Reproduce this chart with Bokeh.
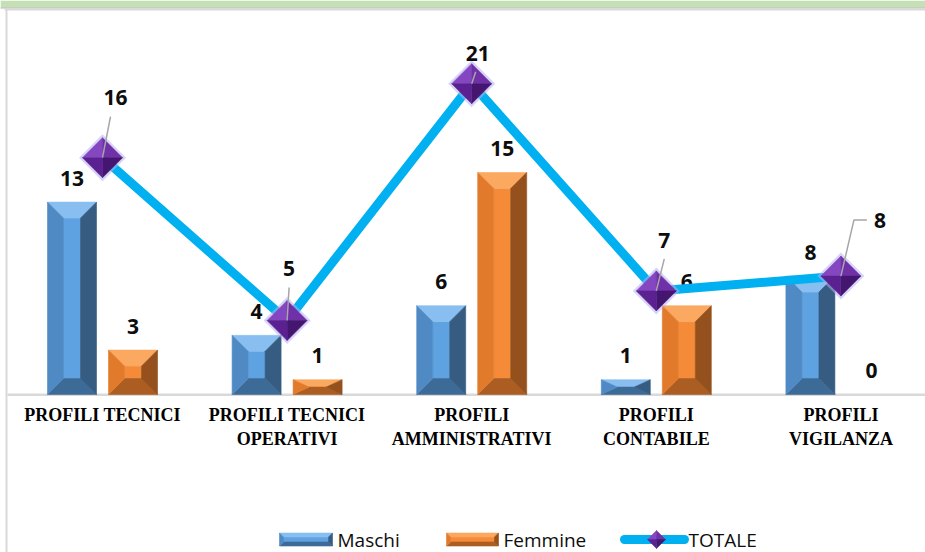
from bokeh.plotting import figure
from bokeh.models import Range1d
from bokeh.core.properties import value
from bokeh.embed import file_html
from bokeh.resources import INLINE

# ---- data -------------------------------------------------------------
categories = ["PROFILI TECNICI", "PROFILI TECNICI\nOPERATIVI", "PROFILI\nAMMINISTRATIVI",
              "PROFILI\nCONTABILE", "PROFILI\nVIGILANZA"]
maschi = [13, 4, 6, 1, 8]
femmine = [3, 1, 15, 6, 0]
totale = [16, 5, 21, 7, 8]
series_names = ["Maschi", "Femmine", "TOTALE"]

# ---- layout constants (pixels) ---------------------------------------
W, H = 925, 552
PX_X = 184.6      # width of one category slot
PX_Y = 14.8       # pixels per unit on the value axis
X0_PX = 102       # centre of the first category
BASE_PX = 394     # value-axis zero, measured from the top
LEG_Y = 539       # legend row centre, from the top

def dx(px):
    return px / PX_X

def dy(px):
    return px / PX_Y

def sx(px):
    return (px - X0_PX) / PX_X

def sy(py):
    return (BASE_PX - py) / PX_Y

p = figure(width=W, height=H, output_backend="svg", toolbar_location=None,
           x_range=Range1d(sx(0), sx(W)), y_range=Range1d(sy(H), sy(0)),
           x_axis_location=None, y_axis_location=None, min_border=0)
p.grid.visible = False
p.outline_line_color = None
p.background_fill_color = "white"
p.border_fill_color = "white"

# ---- frame decoration ------------------------------------------------
p.quad(left=[sx(0)], right=[sx(W)], top=[sy(0)], bottom=[sy(7)],
       fill_color="#c5e0b4", line_color=None)
p.line([sx(0), sx(W)], [sy(7.5), sy(7.5)], line_color="#6f6f6f",
       line_width=1, line_dash="1 1")
p.quad(left=[sx(4)], right=[sx(W)], top=[sy(8)], bottom=[sy(10)],
       fill_color="#d9d9d9", line_color=None)
p.quad(left=[sx(5)], right=[sx(7)], top=[sy(8)], bottom=[sy(H)],
       fill_color="#d9d9d9", line_color=None)
# category baseline
p.quad(left=[sx(7)], right=[sx(W)], top=[sy(393)], bottom=[sy(395.5)],
       fill_color="#d9d9d9", line_color=None)

# ---- bevelled columns --------------------------------------------------
BAR_HALF = 24.5
BAR_SHIFT = 30.5
BEVEL = 16

blue = {"top": "#88bff0", "left": "#4f8ac4", "face": "#5ea2e2",
        "right": "#365c82", "bottom": "#3d6b97"}
orange = {"top": "#fba860", "left": "#e27a2c", "face": "#f58b38",
          "right": "#94511d", "bottom": "#ab5d22"}

poly_xs, poly_ys, poly_cols = [], [], []

def bevel_box(L, R, B, T, bev_x, bev_y, cols):
    w_px = (R - L) * PX_X
    h_px = (T - B) * PX_Y
    bx = min(bev_x, w_px / 2)
    by = min(bev_y, h_px / 2)
    iL, iR = L + dx(bx), R - dx(bx)
    iT, iB = T - dy(by), B + dy(by)
    facets = [
        ("face", [iL, iR, iR, iL], [iT, iT, iB, iB]),
        ("top", [L, R, iR, iL], [T, T, iT, iT]),
        ("bottom", [L, R, iR, iL], [B, B, iB, iB]),
        ("left", [L, iL, iL, L], [T, iT, iB, B]),
        ("right", [R, iR, iR, R], [T, iT, iB, B]),
    ]
    for name, xs, ys in facets:
        poly_xs.append(xs)
        poly_ys.append(ys)
        poly_cols.append(cols[name])

for i, (m, f) in enumerate(zip(maschi, femmine)):
    for v, shift, cols in ((m, -BAR_SHIFT, blue), (f, BAR_SHIFT, orange)):
        if v <= 0:
            continue
        xc = i + dx(shift)
        bevel_box(xc - dx(BAR_HALF), xc + dx(BAR_HALF), 0, v, BEVEL, BEVEL, cols)

# legend swatches
bevel_box(sx(279), sx(332), sy(LEG_Y + 6.5), sy(LEG_Y - 6.5), 4, 4, blue)
bevel_box(sx(446), sx(498), sy(LEG_Y + 6.5), sy(LEG_Y - 6.5), 4, 4, orange)

p.patches(poly_xs, poly_ys, fill_color=poly_cols, line_color=poly_cols, line_width=0.6)

# ---- column value labels ----------------------------------------------
lab_font = value("Open Sans")
xs_m = [i + dx(-BAR_SHIFT) for i in range(len(maschi))]
xs_f = [i + dx(BAR_SHIFT) for i in range(len(femmine))]
p.text(x=xs_m, y=[v + dy(24) for v in maschi], text=[str(v) for v in maschi],
       text_font=lab_font, text_font_style="bold", text_font_size="21px",
       text_align="center", text_baseline="middle", text_color="#0d0d0d")
p.text(x=xs_f, y=[v + dy(24) for v in femmine], text=[str(v) for v in femmine],
       text_font=lab_font, text_font_style="bold", text_font_size="21px",
       text_align="center", text_baseline="middle", text_color="#0d0d0d")

# ---- TOTALE line with diamond markers ---------------------------------
xs_t = list(range(len(totale)))
p.line(xs_t, totale, line_color="#00b0f0", line_width=9, line_join="round")
p.line([sx(624), sx(684)], [sy(LEG_Y), sy(LEG_Y)], line_color="#00b0f0",
       line_width=9, line_cap="round")

d_xs, d_ys, d_cols = [], [], []

def diamond(cx, cy, r, glow=True):
    if glow:
        g = r + 3.5
        d_xs.append([cx - dx(g), cx, cx + dx(g), cx])
        d_ys.append([cy, cy + dy(g), cy, cy - dy(g)])
        d_cols.append("#b7aef3")
    L, T, R, B = (cx - dx(r), cy), (cx, cy + dy(r)), (cx + dx(r), cy), (cx, cy - dy(r))
    C = (cx, cy)
    for (a, b, col) in ((L, T, "#8546c1"), (T, R, "#7030a8"),
                        (R, B, "#44166f"), (B, L, "#5b2191")):
        d_xs.append([a[0], b[0], C[0]])
        d_ys.append([a[1], b[1], C[1]])
        d_cols.append(col)

for i, t in zip(xs_t, totale):
    diamond(i, t, 20)
diamond(sx(656), sy(LEG_Y), 9, glow=False)

p.patches(d_xs, d_ys, fill_color=d_cols, line_color=d_cols, line_width=0.5,
          fill_alpha=[0.55 if c == "#b7aef3" else 1 for c in d_cols],
          line_alpha=[0.0 if c == "#b7aef3" else 1 for c in d_cols])

# leader lines and labels for TOTALE (offsets in pixels from each marker)
leader_end = [(8, -41), (2, -33), (4, -12), (8, -32), (13, -56)]
label_off = [(13, -60), (2, -52), (6, -30), (8, -50), (39, -56)]
lx, ly = [], []
for i, t in zip(xs_t, totale):
    ex, ey = leader_end[i]
    lx.append([i, i + dx(ex)])
    ly.append([t, t - dy(ey)])
# elbow on the last leader
lx[-1].append(xs_t[-1] + dx(26))
ly[-1].append(totale[-1] - dy(-56))
p.multi_line(lx, ly, line_color="#a6a6a6", line_width=1.5)

p.text(x=[i + dx(o[0]) for i, o in zip(xs_t, label_off)],
       y=[t - dy(o[1]) for t, o in zip(totale, label_off)],
       text=[str(v) for v in totale], text_font=lab_font, text_font_style="bold",
       text_font_size="21px", text_align="center", text_baseline="middle",
       text_color="#0d0d0d")

# ---- category labels ---------------------------------------------------
p.text(x=list(range(len(categories))), y=[sy(404)] * len(categories), text=categories,
       text_font=value("Liberation Serif"), text_font_style="bold",
       text_font_size="18px", text_align="center", text_baseline="top",
       text_color="#000000", text_line_height=1.2)

# ---- legend text -------------------------------------------------------
p.text(x=[sx(337), sx(503), sx(688)], y=[sy(LEG_Y)] * 3, text=series_names,
       text_font=value("Open Sans"), text_font_size="19px", text_align="left",
       text_baseline="middle", text_color="#0d0d0d")

open("out.html", "w").write(file_html(p, INLINE))
